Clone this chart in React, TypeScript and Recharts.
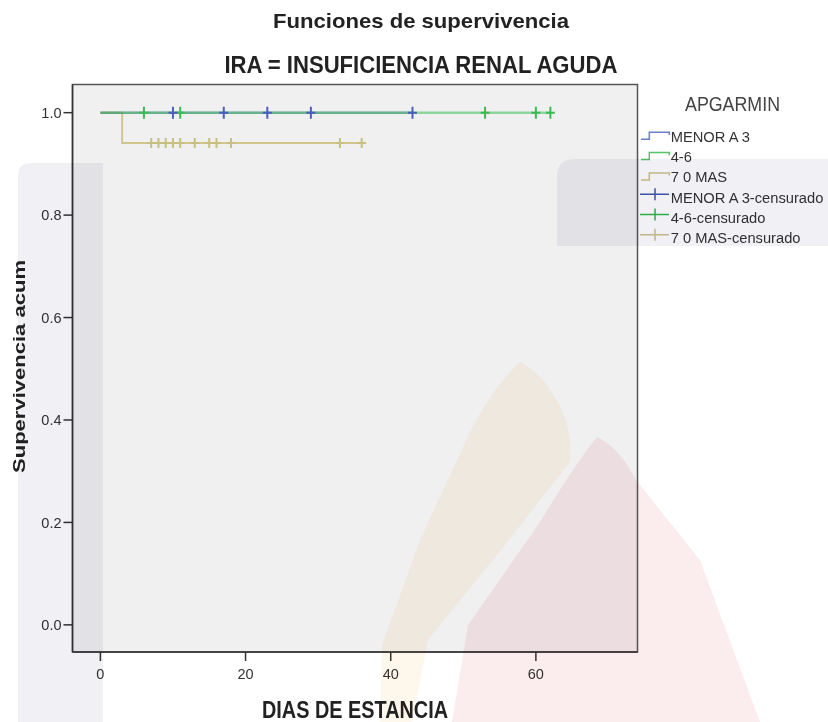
import React from 'react'
import { ComposedChart, Line, Scatter, XAxis, YAxis, ReferenceArea, Legend } from 'recharts'

// Kaplan-Meier steps per APGARMIN group: day of stay -> cumulative survival
const menorTimes = [0, 43]
const menorSurv = [1, 1]
const cuatroSeisTimes = [0, 62]
const cuatroSeisSurv = [1, 1]
const sieteTimes = [0, 3, 36]
const sieteSurv = [1, 0.941, 0.941]

// censored cases (day, survival at that day)
const menorCensTimes = [10, 17, 23, 29, 43]
const menorCensSurv = [1, 1, 1, 1, 1]
const cuatroSeisCensTimes = [6, 11, 53, 60, 62]
const cuatroSeisCensSurv = [1, 1, 1, 1, 1]
const sieteCensTimes = [7, 8, 9, 10, 11, 13, 15, 16, 18, 33, 36]
const sieteCensSurv = [0.941, 0.941, 0.941, 0.941, 0.941, 0.941, 0.941, 0.941, 0.941, 0.941, 0.941]

const groupNames = ['MENOR A 3', '4-6', '7 0 MAS']
const xTicks = [0, 20, 40, 60]
const yTicks = [0, 0.2, 0.4, 0.6, 0.8, 1]

const X_DOMAIN: [number, number] = [-3.84, 74]
const Y_DOMAIN: [number, number] = [-0.053, 1.055]

const BLUE = '#3e58ac'
const GREEN = '#2eb848'
const TAN = '#d0c78e'

const toPoints = (t: number[], s: number[]) => t.map((d, i) => ({ dias: d, surv: s[i] }))

const Cross = ({ cx, cy, color, h }: { cx: number; cy: number; color: string; h: number }) => (
  <path d={`M${cx - 4.5},${cy}H${cx + 4.5}M${cx},${cy - h}V${cy + h}`} stroke={color} strokeWidth={2} fill="none" />
)

const crossShape = (color: string, h: number) => (p: any) => <Cross cx={p.cx} cy={p.cy} color={color} h={h} />

const legendColors = [
  { line: '#6a7fc8', cross: BLUE },
  { line: '#55c468', cross: GREEN },
  { line: '#cbc38e', cross: '#cdc48e' },
]

function KmLegend() {
  const base = 53.7
  const step = 20.3
  const rows: React.ReactNode[] = []
  groupNames.forEach((name, i) => {
    const y = base + i * step
    rows.push(
      <g key={`l${i}`}>
        <path
          d={`M5,${y - 2.4}H13.3V${y - 9.4}H33.3V${y - 6.7}`}
          stroke={legendColors[i].line}
          strokeWidth={1.5}
          fill="none"
        />
        <text x={34.7} y={y} fontSize={14.7} fill="#333">{name}</text>
      </g>
    )
  })
  groupNames.forEach((name, i) => {
    const y = base + (i + 3) * step
    rows.push(
      <g key={`c${i}`}>
        <path
          d={`M4,${y - 8.4}H33M19,${y - 14.4}V${y - 2.4}`}
          stroke={legendColors[i].cross}
          strokeWidth={1.5}
          fill="none"
        />
        <text x={34.7} y={y} fontSize={14.7} fill="#333">{`${name}-censurado`}</text>
      </g>
    )
  })
  return (
    <svg width={192} height={170} style={{ overflow: 'visible' }}>
      <text x={49} y={22.7} fontSize={19.5} fill="#444" textLength={95} lengthAdjust="spacingAndGlyphs">APGARMIN</text>
      {rows}
    </svg>
  )
}

// faint logo watermark printed under the page, multiplied over everything
function Watermark() {
  return (
    <svg
      width={828}
      height={722}
      style={{ position: 'absolute', left: 0, top: 0, pointerEvents: 'none', mixBlendMode: 'multiply' }}
    >
      <path d="M18,176 Q18,163 31,163 L103,163 L103,722 L18,722 Z" fill="rgb(240,240,245)" />
      <path d="M575,159 L828,159 L828,246 L557,246 L557,177 Q557,159 575,159 Z" fill="rgb(240,240,245)" />
      <path
        d="M520,362 Q548,376 565,418 Q572,440 570,462 L505,545 L428,640 L412,722 L380,722 L382,645 L420,540 L470,432 Q492,388 520,362 Z"
        fill="rgb(254,247,236)"
      />
      <path
        d="M597,437 Q620,448 636,480 L700,560 L760,722 L452,722 L468,625 L540,522 Q575,464 597,437 Z"
        fill="rgb(251,236,238)"
      />
    </svg>
  )
}

export default function App() {
  return (
    <div
      style={{
        position: 'absolute',
        left: 0,
        top: 0,
        width: 828,
        height: 722,
        background: '#fff',
        fontFamily: "'Liberation Sans', Arial, sans-serif",
      }}
    >
      <ComposedChart width={828} height={722} margin={{ top: 84.5, right: 190.5, bottom: 30, left: 22.5 }}>
        <XAxis
          type="number"
          dataKey="dias"
          domain={X_DOMAIN}
          allowDataOverflow
          ticks={xTicks}
          interval={0}
          height={40}
          tickSize={9}
          tickMargin={8}
          axisLine={{ stroke: '#333', strokeWidth: 1.5 }}
          tickLine={{ stroke: '#333', strokeWidth: 1.5 }}
          tick={{ fontSize: 14.5, fill: '#333' }}
        />
        <YAxis
          type="number"
          domain={Y_DOMAIN}
          allowDataOverflow
          ticks={yTicks}
          interval={0}
          width={50}
          tickSize={9}
          tickMargin={2}
          tickFormatter={(v: number) => v.toFixed(1)}
          axisLine={{ stroke: '#333', strokeWidth: 1.5 }}
          tickLine={{ stroke: '#333', strokeWidth: 1.5 }}
          tick={{ fontSize: 14.5, fill: '#333' }}
        />
        <ReferenceArea
          x1={X_DOMAIN[0]}
          x2={X_DOMAIN[1]}
          y1={Y_DOMAIN[0]}
          y2={Y_DOMAIN[1]}
          fill="#f0f0f0"
          fillOpacity={1}
          stroke="#555"
          strokeWidth={1.5}
          ifOverflow="visible"
        />
        <Line
          data={toPoints(sieteTimes, sieteSurv)}
          dataKey="surv"
          type="stepAfter"
          stroke={TAN}
          strokeWidth={2}
          dot={false}
          activeDot={false}
          isAnimationActive={false}
        />
        <Line
          data={toPoints(menorTimes, menorSurv)}
          dataKey="surv"
          type="stepAfter"
          stroke={BLUE}
          strokeOpacity={0.45}
          strokeWidth={2.5}
          dot={false}
          activeDot={false}
          isAnimationActive={false}
        />
        <Line
          data={toPoints(cuatroSeisTimes, cuatroSeisSurv)}
          dataKey="surv"
          type="stepAfter"
          stroke={GREEN}
          strokeOpacity={0.5}
          strokeWidth={2.5}
          dot={false}
          activeDot={false}
          isAnimationActive={false}
        />
        <Scatter
          data={toPoints(sieteCensTimes, sieteCensSurv)}
          dataKey="surv"
          shape={crossShape('#c9bf80', 5)}
          isAnimationActive={false}
        />
        <Scatter
          data={toPoints(cuatroSeisCensTimes, cuatroSeisCensSurv)}
          dataKey="surv"
          shape={crossShape('#3dba55', 6)}
          isAnimationActive={false}
        />
        <Scatter
          data={toPoints(menorCensTimes, menorCensSurv)}
          dataKey="surv"
          shape={crossShape('#4a5ec0', 6)}
          isAnimationActive={false}
        />
        <Legend
          layout="vertical"
          align="center"
          verticalAlign="middle"
          wrapperStyle={{ left: 636, top: 88, width: 192, height: 170 }}
          content={() => <KmLegend />}
        />
      </ComposedChart>

      <svg width={828} height={722} style={{ position: 'absolute', left: 0, top: 0, pointerEvents: 'none' }}>
        <text x={273} y={28.3} fontSize={21} fontWeight="bold" fill="#222" textLength={296} lengthAdjust="spacingAndGlyphs">
          Funciones de supervivencia
        </text>
        <text
          x={224.4}
          y={73.3}
          fontSize={24}
          fontWeight="bold"
          fill="#222"
          textLength={393}
          lengthAdjust="spacingAndGlyphs"
        >
          IRA = INSUFICIENCIA RENAL AGUDA
        </text>
        <text x={262} y={718} fontSize={23.5} fontWeight="bold" fill="#222" textLength={186} lengthAdjust="spacingAndGlyphs">
          DIAS DE ESTANCIA
        </text>
        <text
          transform="translate(25,473) rotate(-90)"
          fontSize={17}
          fontWeight="bold"
          fill="#222"
          textLength={213}
          lengthAdjust="spacingAndGlyphs"
        >
          Supervivencia acum
        </text>
      </svg>
      <Watermark />
    </div>
  )
}
